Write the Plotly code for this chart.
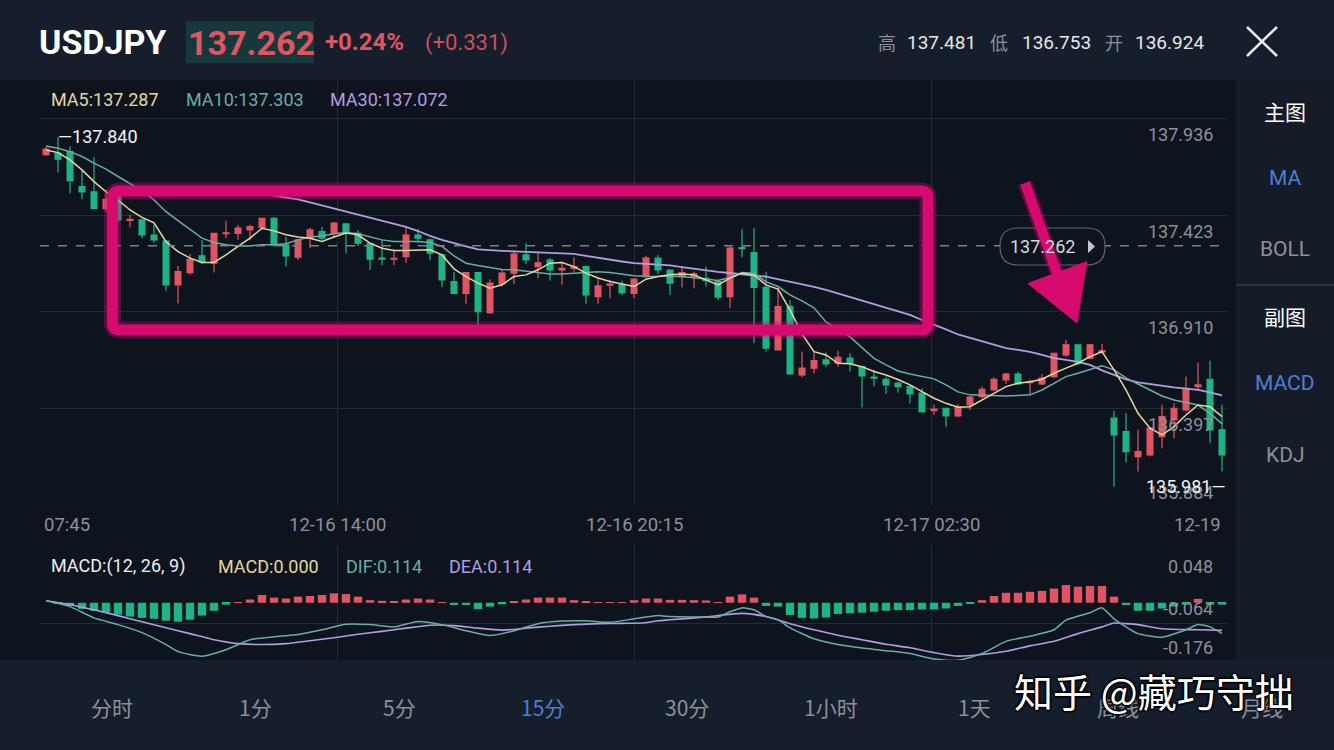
import plotly.graph_objects as go

W, H = 1334, 750

# ------------------------------------------------------------------ data
candle_open = [137.746,137.754,137.762,137.576,137.548,137.459,137.523,137.397,137.399,137.319,
 137.287,137.054,137.119,137.208,137.169,137.326,137.328,137.346,137.360,137.408,
 137.266,137.201,137.302,137.337,137.328,137.378,137.328,137.275,137.196,137.190,
 137.204,137.319,137.293,137.213,137.071,137.009,137.119,136.906,137.059,137.116,
 137.213,137.151,137.186,137.133,137.142,137.151,136.991,137.052,137.054,137.009,
 137.098,137.196,137.133,137.098,137.098,137.089,137.071,136.991,137.252,137.225,
 137.041,136.708,136.938,136.575,136.611,136.655,136.637,136.664,136.619,136.564,
 136.552,136.531,136.513,136.478,136.385,136.398,136.357,136.416,136.460,136.495,
 136.549,136.580,136.534,136.527,136.566,136.681,136.735,136.664,136.697,136.345,
 136.274,136.141,136.150,136.247,136.336,136.389,136.513,136.552,136.283]
candle_high = [137.787,137.840,137.789,137.665,137.732,137.559,137.530,137.426,137.405,137.373,
 137.293,137.155,137.218,137.293,137.328,137.395,137.373,137.373,137.410,137.415,
 137.310,137.295,137.357,137.363,137.390,137.380,137.346,137.278,137.293,137.240,
 137.367,137.351,137.300,137.215,137.124,137.121,137.122,137.084,137.133,137.236,
 137.278,137.231,137.197,137.177,137.201,137.155,137.089,137.080,137.076,137.086,
 137.208,137.213,137.135,137.151,137.124,137.151,137.073,137.257,137.350,137.355,
 137.124,137.036,136.974,136.699,136.699,136.694,136.704,136.690,136.622,136.602,
 136.566,136.540,136.522,136.504,136.416,136.400,136.421,136.463,136.513,136.563,
 136.587,136.593,136.552,136.580,136.694,136.761,136.737,136.740,136.740,136.385,
 136.372,136.283,136.297,136.416,136.425,136.566,136.641,136.651,136.416]
candle_low = [137.739,137.651,137.541,137.509,137.455,137.442,137.382,137.360,137.302,137.278,
 137.022,136.956,137.107,137.165,137.119,137.302,137.293,137.293,137.346,137.264,
 137.151,137.186,137.250,137.293,137.310,137.222,137.261,137.133,137.160,137.160,
 137.172,137.277,137.186,137.041,137.005,136.953,136.832,136.899,137.045,137.059,
 137.165,137.089,137.076,137.054,137.124,136.953,136.953,136.983,137.000,136.983,
 137.089,137.112,137.000,137.041,137.036,137.045,136.974,136.930,137.201,136.744,
 136.699,136.705,136.578,136.563,136.584,136.619,136.619,136.593,136.403,136.513,
 136.474,136.480,136.425,136.372,136.363,136.300,136.352,136.389,136.453,136.491,
 136.527,136.522,136.474,136.522,136.558,136.672,136.628,136.659,136.690,135.981,
 136.109,136.061,136.141,136.185,136.239,136.380,136.495,136.215,136.061]
candle_close = [137.775,137.722,137.608,137.548,137.459,137.509,137.399,137.402,137.319,137.293,
 137.054,137.124,137.190,137.176,137.328,137.330,137.355,137.363,137.408,137.266,
 137.208,137.293,137.346,137.302,137.382,137.328,137.275,137.190,137.191,137.195,
 137.319,137.302,137.222,137.080,137.009,137.119,136.912,137.063,137.116,137.218,
 137.186,137.171,137.133,137.142,137.151,137.000,137.048,137.058,137.013,137.084,
 137.196,137.133,137.063,137.119,137.112,137.076,136.988,137.249,137.246,137.041,
 136.717,136.938,136.580,136.611,136.651,136.634,136.669,136.637,136.570,136.558,
 136.522,136.513,136.474,136.380,136.393,136.357,136.403,136.457,136.499,136.552,
 136.580,136.527,136.540,136.558,136.690,136.735,136.637,136.735,136.704,136.256,
 136.167,136.167,136.292,136.353,136.398,136.504,136.522,136.283,136.150]

ma5 = [137.771,137.757,137.718,137.665,137.603,137.549,137.505,137.452,137.413,137.384,
 137.283,137.231,137.196,137.173,137.173,137.213,137.258,137.302,137.355,137.341,
 137.320,137.308,137.302,137.284,137.308,137.329,137.320,137.276,137.249,137.236,
 137.236,137.236,137.240,137.213,137.139,137.098,137.063,137.036,137.054,137.098,
 137.107,137.134,137.169,137.173,137.151,137.116,137.090,137.072,137.059,137.045,
 137.084,137.098,137.107,137.112,137.107,137.080,137.054,137.090,137.116,137.107,
 137.054,137.031,136.921,136.793,136.699,136.681,136.637,136.634,136.619,136.593,
 136.575,136.551,136.522,136.486,136.451,136.424,136.403,136.406,136.442,136.478,
 136.513,136.531,136.539,136.552,136.584,136.611,136.637,136.672,136.699,136.602,
 136.495,136.371,136.292,136.256,136.300,136.362,136.415,136.406,136.353]
ma10 = [137.792,137.780,137.762,137.736,137.701,137.669,137.630,137.594,137.555,137.505,
 137.443,137.395,137.350,137.302,137.279,137.267,137.261,137.261,137.267,137.267,
 137.272,137.293,137.308,137.314,137.325,137.332,137.325,137.308,137.293,137.284,
 137.284,137.284,137.279,137.258,137.208,137.169,137.157,137.146,137.136,137.134,
 137.128,137.120,137.112,137.112,137.115,137.120,137.124,137.119,137.112,137.102,
 137.099,137.098,137.098,137.098,137.092,137.085,137.077,137.093,137.119,137.116,
 137.071,137.045,137.001,136.969,136.932,136.857,136.820,136.777,136.719,136.663,
 136.628,136.596,136.580,136.566,136.554,136.522,136.485,136.469,136.466,136.463,
 136.463,136.466,136.469,136.495,136.532,136.566,136.584,136.603,136.623,136.602,
 136.559,136.527,136.495,136.463,136.442,136.427,136.415,136.371,136.315]
ma30 = [None] * 16 + [137.558,137.548,137.537,137.529,137.519,137.508,137.492,137.476,137.460,137.444,
 137.428,137.412,137.396,137.380,137.362,137.340,137.314,137.293,137.274,137.258,
 137.243,137.237,137.235,137.232,137.229,137.228,137.226,137.222,137.219,137.208,
 137.197,137.188,137.178,137.169,137.165,137.162,137.157,137.148,137.139,137.130,
 137.123,137.117,137.109,137.103,137.098,137.085,137.073,137.059,137.043,137.027,
 137.008,136.991,136.974,136.952,136.934,136.915,136.894,136.867,136.843,136.817,
 136.790,136.772,136.753,136.734,136.718,136.708,136.697,136.681,136.664,136.655,
 136.644,136.628,136.599,136.575,136.551,136.535,136.525,136.517,136.509,136.502,
 136.495,136.482,136.466]

macd_hist = [0.000,-0.003,-0.009,-0.019,-0.025,-0.031,-0.037,-0.043,-0.047,-0.050,
 -0.056,-0.059,-0.053,-0.040,-0.025,-0.006,0.002,0.010,0.024,0.016,
 0.013,0.019,0.021,0.024,0.029,0.027,0.019,0.008,0.006,0.003,
 0.010,0.013,0.010,0.002,-0.007,-0.007,-0.020,-0.012,-0.005,0.005,
 0.010,0.016,0.016,0.016,0.008,0.005,0.002,0.002,0.002,0.008,
 0.013,0.013,0.009,0.009,0.008,0.007,0.002,0.019,0.026,0.016,
 -0.010,-0.012,-0.038,-0.047,-0.049,-0.046,-0.035,-0.033,-0.031,-0.028,
 -0.025,-0.023,-0.023,-0.021,-0.021,-0.018,-0.010,-0.002,0.008,0.021,
 0.031,0.031,0.034,0.037,0.044,0.055,0.050,0.052,0.052,0.019,
 -0.007,-0.025,-0.025,-0.018,-0.012,-0.006,0.012,-0.006,-0.006]

dif_idx = [0,2,4,6,8,10,11,13,15,17,19,21,23,25,27,29,31,33,35,37,39,41,43,45,47,49,51,52,54,56,
           57,58,59,60,61,62,64,66,68,70,72,74,76,78,80,82,84,85,87,88,89,90,91,93,95,96,97,98]
dif_val = [0.006,-0.012,-0.047,-0.068,-0.093,-0.130,-0.152,-0.166,-0.146,-0.115,-0.106,-0.099,-0.084,
           -0.067,-0.068,-0.075,-0.058,-0.068,-0.087,-0.102,-0.087,-0.065,-0.057,-0.056,-0.061,-0.050,
           -0.040,-0.043,-0.044,-0.044,-0.028,-0.016,-0.022,-0.043,-0.053,-0.078,-0.112,-0.130,-0.141,
           -0.149,-0.158,-0.175,-0.179,-0.158,-0.120,-0.104,-0.084,-0.054,-0.031,-0.016,-0.050,-0.075,
           -0.096,-0.107,-0.084,-0.068,-0.075,-0.096]
dea_idx = [0,2,4,6,8,10,12,14,16,18,20,22,24,26,28,30,32,34,36,38,40,42,44,46,48,50,51,52,55,58,
           60,62,64,66,68,70,72,74,76,78,80,82,84,86,88,89,90,91,93,96,98]
dea_val = [0.006,-0.006,-0.022,-0.040,-0.059,-0.078,-0.096,-0.115,-0.127,-0.130,-0.127,-0.118,-0.109,
           -0.098,-0.089,-0.079,-0.070,-0.071,-0.079,-0.085,-0.079,-0.073,-0.068,-0.065,-0.064,-0.062,
           -0.056,-0.053,-0.044,-0.033,-0.043,-0.065,-0.084,-0.101,-0.115,-0.129,-0.140,-0.155,-0.166,
           -0.161,-0.151,-0.134,-0.120,-0.096,-0.075,-0.063,-0.065,-0.068,-0.081,-0.084,-0.086]

price_ticks = [137.936, 137.423, 136.910, 136.397, 135.884]
macd_ticks = [0.048, -0.064, -0.176]
time_labels = ["07:45", "12-16 14:00", "12-16 20:15", "12-17 02:30", "12-19"]
current_price = 137.262
day_high, day_low = 137.840, 135.981
tabs = ["分时", "1分", "5分", "15分", "30分", "1小时", "1天", "周线", "月线"]
side_main = ["主图", "MA", "BOLL"]
side_sub = ["副图", "MACD", "KDJ"]

# ------------------------------------------------------------------ style
RED = "#e15562"
GREEN = "#1fb386"
MA5_C = "#e6d69f"
MA10_C = "#6aada2"
MA30_C = "#b29de0"
BLUE = "#4a7fd8"
GRAYTXT = "#8c9199"
GRID = "#222b37"
HEADER_BG = "#161e2b"
CHART_BG = "#0e141e"
SIDE_BG = "#151c28"
PINK = "#d60a6f"
FONT = "Roboto, 'Noto Sans CJK SC', sans-serif"
CJK = "'Noto Sans CJK SC', Roboto, sans-serif"

n = len(candle_open)
idx = list(range(n))


def P(x, y):
    return x / W, 1 - y / H


XD = [40 / W, 1228 / W]
XR = [-0.5, n - 0.5]
vgrid = [XR[0] + f * (XR[1] - XR[0]) for f in (0.25, 0.5, 0.75)]

fig = go.Figure()
fig.add_trace(go.Candlestick(
    x=idx, open=candle_open, high=candle_high, low=candle_low, close=candle_close,
    increasing=dict(line=dict(color=RED, width=1.2), fillcolor=RED),
    decreasing=dict(line=dict(color=GREEN, width=1.2), fillcolor=GREEN),
    whiskerwidth=0, hoverinfo="skip", showlegend=False, xaxis="x", yaxis="y"))
for vals, col, wd in ((ma30, MA30_C, 1.8), (ma10, MA10_C, 1.5), (ma5, MA5_C, 1.5)):
    fig.add_trace(go.Scatter(x=idx, y=vals, mode="lines", line=dict(color=col, width=wd),
                             hoverinfo="skip", showlegend=False, xaxis="x", yaxis="y"))

fig.add_trace(go.Bar(x=idx, y=macd_hist, width=0.7,
                     marker=dict(color=[RED if v >= 0 else GREEN for v in macd_hist], line=dict(width=0)),
                     hoverinfo="skip", showlegend=False, xaxis="x2", yaxis="y2"))
fig.add_trace(go.Scatter(x=dea_idx, y=dea_val, mode="lines", line=dict(color=MA30_C, width=1.6, shape="spline", smoothing=0.6),
                         hoverinfo="skip", showlegend=False, xaxis="x2", yaxis="y2"))
fig.add_trace(go.Scatter(x=dif_idx, y=dif_val, mode="lines", line=dict(color=MA10_C, width=1.5, shape="spline", smoothing=0.6),
                         hoverinfo="skip", showlegend=False, xaxis="x2", yaxis="y2"))

shapes = []


def rect(x0, y0, x1, y1, color):
    a, b = P(x0, y0)
    c, d = P(x1, y1)
    shapes.append(dict(type="rect", xref="paper", yref="paper", x0=a, y0=d, x1=c, y1=b,
                       fillcolor=color, line=dict(width=0), layer="below"))


def pline(x0, y0, x1, y1, color, width, layer="above", dash=None):
    a, b = P(x0, y0)
    c, d = P(x1, y1)
    ln = dict(color=color, width=width)
    if dash:
        ln["dash"] = dash
    shapes.append(dict(type="line", xref="paper", yref="paper", x0=a, y0=b, x1=c, y1=d, line=ln, layer=layer))


def path_from(pts_cmds):
    s = ""
    for cmd, pts in pts_cmds:
        s += cmd
        s += " ".join("%.5f,%.5f" % P(x, y) for x, y in pts) + " "
    return s + "Z"


def rrect_path(x0, y0, x1, y1, r):
    return path_from([
        ("M", [(x0 + r, y0)]), ("L", [(x1 - r, y0)]), ("Q", [(x1, y0), (x1, y0 + r)]),
        ("L", [(x1, y1 - r)]), ("Q", [(x1, y1), (x1 - r, y1)]), ("L", [(x0 + r, y1)]),
        ("Q", [(x0, y1), (x0, y1 - r)]), ("L", [(x0, y0 + r)]), ("Q", [(x0, y0), (x0 + r, y0)])])


# backgrounds
rect(0, 80, 1236, 660, CHART_BG)
rect(1236, 80, 1334, 660, SIDE_BG)
rect(186, 21, 314, 63, "#17383a")
pline(1236, 285, 1334, 285, "#2a3340", 2)

# close icon
pline(1247, 27, 1277, 56, "#e8eaed", 2.5)
pline(1277, 27, 1247, 56, "#e8eaed", 2.5)

# current price line + pill
shapes.append(dict(type="line", xref="x domain", yref="y", x0=0, x1=1, y0=current_price, y1=current_price,
                   line=dict(color="#7b818a", width=1.5, dash="dash"), layer="above"))
shapes.append(dict(type="path", xref="paper", yref="paper", path=rrect_path(1000, 228, 1105, 265, 18),
                   fillcolor=CHART_BG, line=dict(color="#5d6571", width=1.2), layer="above"))
shapes.append(dict(type="path", xref="paper", yref="paper",
                   path=path_from([("M", [(1088, 240)]), ("L", [(1088, 253)]), ("L", [(1095, 246.5)])]),
                   fillcolor="#c3c7cd", line=dict(width=0), layer="above"))

# pink highlight box + arrow
box = rrect_path(112.5, 191, 928, 330, 7)
shapes.append(dict(type="path", xref="paper", yref="paper", path=box, line=dict(color="rgba(214,10,111,0.35)", width=17), layer="above"))
shapes.append(dict(type="path", xref="paper", yref="paper", path=box, line=dict(color=PINK, width=11), layer="above"))
pline(1025, 183, 1058, 276, "rgba(214,10,111,0.35)", 15)
pline(1025, 183, 1058, 276, PINK, 10)
shapes.append(dict(type="path", xref="paper", yref="paper",
                   path=path_from([("M", [(1028, 283.5)]), ("L", [(1087, 261.5)]), ("L", [(1077, 323)])]),
                   fillcolor=PINK, line=dict(color=PINK, width=1), layer="above"))

ann = []


def label(x, y, text, size, color, xanchor="left", weight=400, family=FONT, **kw):
    a, b = P(x, y)
    ann.append(dict(x=a, y=b, xref="paper", yref="paper", text=text, showarrow=False,
                    xanchor=xanchor, yanchor="middle",
                    font=dict(family=family, size=size, color=color, weight=weight), **kw))


# header
label(37, 42, "USDJPY", 34, "#ffffff", weight=700)
label(186, 43, "%.3f" % current_price, 34, RED, weight=700)
label(323, 42, "+0.24%", 24, RED, weight=700)
label(423, 43, "(+0.331)", 22, "#c9505c")
label(876, 42, "高", 18, GRAYTXT, family=CJK)
label(905, 42, "137.481", 19, "#e4e6ea")
label(988, 42, "低", 18, GRAYTXT, family=CJK)
label(1020, 42, "136.753", 19, "#e4e6ea")
label(1103, 42, "开", 18, GRAYTXT, family=CJK)
label(1133, 42, "136.924", 19, "#e4e6ea")

# MA legend
label(49, 100, "MA5:%.3f" % 137.287, 18, MA5_C)
label(184, 100, "MA10:%.3f" % 137.303, 18, MA10_C)
label(328, 100, "MA30:%.3f" % 137.072, 18, MA30_C)

# right side menu
for (t, y, c) in zip(side_main, (111, 178, 249), ("#ffffff", BLUE, GRAYTXT)):
    label(1285, y, t, 21, c, xanchor="center", family=CJK if t == "主图" else FONT)
for (t, y, c) in zip(side_sub, (316, 383, 455), ("#ffffff", BLUE, GRAYTXT)):
    label(1285, y, t, 21, c, xanchor="center", family=CJK if t == "副图" else FONT)

# price axis labels
for k, v in enumerate(price_ticks):
    ann.append(dict(x=1, xref="x domain", y=v, yref="y", text="%.3f" % v, showarrow=False,
                    xanchor="right", yanchor="middle", xshift=-13,
                    yshift=(12 if k == len(price_ticks) - 1 else -16),
                    font=dict(family=FONT, size=18, color=GRAYTXT)))

# high / low markers
ann.append(dict(x=1, xref="x", y=day_high, yref="y", text="—%.3f" % day_high, showarrow=False,
                xanchor="left", yanchor="middle", xshift=-2, font=dict(family=FONT, size=18, color="#f2f3f5")))
ann.append(dict(x=1, xref="x domain", y=day_low, yref="y", text="%.3f—" % day_low, showarrow=False,
                xanchor="right", yanchor="middle", xshift=0, font=dict(family=FONT, size=18, color="#f2f3f5")))

# pill label
label(1042, 247, "%.3f" % current_price, 18, "#d6d9dd", xanchor="center")

# time labels
for k, t in enumerate(time_labels):
    f = k / (len(time_labels) - 1)
    xa = "left" if k == 0 else ("right" if k == len(time_labels) - 1 else "center")
    xs = 2 if k == 0 else (-5 if k == len(time_labels) - 1 else 0)
    ann.append(dict(x=f, xref="x domain", y=P(0, 525)[1], yref="paper", text=t, showarrow=False,
                    xanchor=xa, yanchor="middle", xshift=xs,
                    font=dict(family=FONT, size=18.5, color=GRAYTXT)))

# MACD legend
label(49, 566, "MACD:(12, 26, 9)", 18, "#eceef1")
label(216, 566, "MACD:0.000", 18, MA5_C)
label(344, 566, "DIF:0.114", 18, MA10_C)
label(447, 566, "DEA:0.114", 18, MA30_C)
for v, ys in zip(macd_ticks, (21, 15, 12)):
    ann.append(dict(x=1, xref="x2 domain", y=v, yref="y2", text="%.3f" % v, showarrow=False,
                    xanchor="right", yanchor="middle", xshift=-13, yshift=ys,
                    font=dict(family=FONT, size=18, color=GRAYTXT)))

# bottom tabs
for k, t in enumerate(tabs):
    label(112 + k * 143.75, 707, t, 21, BLUE if t == "15分" else GRAYTXT, xanchor="center", family=CJK)

# watermark
a, b = P(1154, 690)
ann.append(dict(x=a, y=b, xref="paper", yref="paper", text="知乎 @藏巧守拙", showarrow=False,
                xanchor="center", yanchor="middle",
                font=dict(family=CJK, size=39, color="#ffffff",
                          shadow="1px 1px 2px #000, -1px -1px 2px #000, 1px -1px 2px #000, -1px 1px 2px #000")))

fig.update_layout(
    width=W, height=H, margin=dict(l=0, r=0, t=0, b=0),
    paper_bgcolor=HEADER_BG, plot_bgcolor="rgba(0,0,0,0)", showlegend=False,
    xaxis=dict(domain=XD, range=XR, tickvals=vgrid, showticklabels=False, ticks="", showgrid=True,
               gridcolor=GRID, gridwidth=1, zeroline=False, showline=False, rangeslider=dict(visible=False),
               anchor="y", fixedrange=True),
    yaxis=dict(domain=[1 - 505 / H, 1 - 80 / H], range=[135.8835, 138.143], tickvals=price_ticks,
               showticklabels=False, ticks="", showgrid=True, gridcolor=GRID, gridwidth=1, zeroline=False,
               anchor="x", fixedrange=True),
    xaxis2=dict(domain=XD, range=XR, tickvals=vgrid, showticklabels=False, ticks="", showgrid=True,
                gridcolor=GRID, gridwidth=1, zeroline=False, anchor="y2", fixedrange=True),
    yaxis2=dict(domain=[1 - 660 / H, 1 - 545 / H], range=[-0.178, 0.1795], tickvals=[-0.064, 0.179],
                showticklabels=False, ticks="", showgrid=True, gridcolor=GRID, gridwidth=1, zeroline=False,
                anchor="x2", fixedrange=True),
    shapes=shapes, annotations=ann, bargap=0.3,
)

fig.write_html("out.html", config={"displayModeBar": False})
